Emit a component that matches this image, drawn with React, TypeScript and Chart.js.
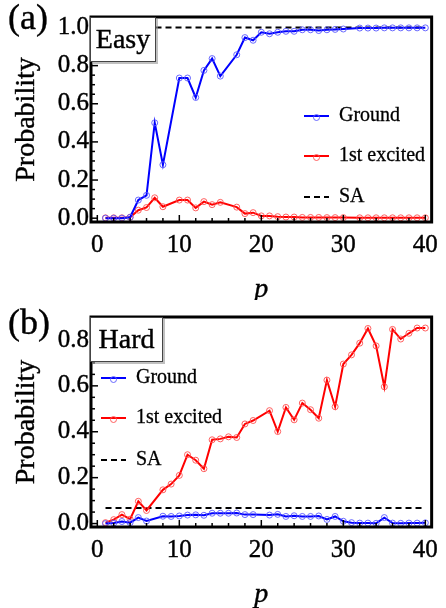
import React, { useEffect, useRef } from "react";
import { Chart, registerables } from "chart.js";
Chart.register(...registerables);

// ---------- data ----------
const xTicks = [0, 10, 20, 30, 40];
const yTicksEasy = [0, 0.2, 0.4, 0.6, 0.8, 1.0];
const yTicksHard = [0, 0.2, 0.4, 0.6, 0.8];

const pEasy = [1, 2, 3, 4, 5, 6, 7, 8, 10, 11, 12, 13, 14, 15, 17, 18, 19, 20, 21, 22, 23, 24, 25, 26, 27, 28, 29, 30, 32, 33, 34, 35, 36, 37, 38, 39, 40];
const groundEasy = [0.0, 0.0, 0.0, 0.005, 0.095, 0.12, 0.5, 0.28, 0.735, 0.735, 0.633, 0.775, 0.837, 0.745, 0.857, 0.947, 0.933, 0.975, 0.967, 0.975, 0.98, 0.98, 0.988, 0.988, 0.984, 0.988, 0.99, 0.992, 0.997, 0.997, 0.997, 0.998, 0.998, 0.998, 0.998, 0.998, 0.998];
const excitedEasy = [0.002, 0.002, 0.002, 0.005, 0.042, 0.056, 0.107, 0.06, 0.095, 0.095, 0.054, 0.087, 0.071, 0.083, 0.058, 0.024, 0.029, 0.012, 0.012, 0.008, 0.006, 0.006, 0.004, 0.004, 0.004, 0.003, 0.003, 0.003, 0.002, 0.002, 0.002, 0.002, 0.002, 0.002, 0.002, 0.002, 0.002];
const saEasy = 1.0;

const pHard = [1, 2, 3, 4, 5, 6, 8, 9, 10, 11, 12, 13, 14, 15, 16, 17, 18, 19, 21, 22, 23, 24, 25, 26, 27, 28, 29, 30, 31, 32, 33, 34, 35, 36, 37, 38, 39, 40];
const groundHard = [0.0, 0.002, 0.009, 0.004, 0.026, 0.011, 0.032, 0.031, 0.033, 0.037, 0.038, 0.036, 0.045, 0.045, 0.045, 0.046, 0.039, 0.039, 0.037, 0.04, 0.031, 0.034, 0.031, 0.031, 0.033, 0.018, 0.031, 0.01, 0.004, 0.002, 0.002, 0.001, 0.026, 0.002, 0.001, 0.002, 0.002, 0.003];
const excitedHard = [0.004, 0.017, 0.039, 0.019, 0.097, 0.057, 0.147, 0.172, 0.21, 0.3, 0.276, 0.239, 0.365, 0.369, 0.378, 0.375, 0.434, 0.449, 0.492, 0.401, 0.506, 0.452, 0.525, 0.496, 0.459, 0.625, 0.509, 0.695, 0.735, 0.786, 0.85, 0.774, 0.596, 0.846, 0.804, 0.829, 0.852, 0.852];
const saHard = 0.068;
const saRange = [1, 40];

const seriesNames = ["Ground", "1st excited", "SA"];

// ---------- styles ----------
const FONT = "'Liberation Serif', 'Times New Roman', serif";
const BLUE = "#0000ff";
const RED = "#ff0000";
const BLUE_MK = "rgba(90,90,255,0.9)";
const RED_MK = "rgba(255,80,80,0.9)";

type PanelCfg = {
  tag: string;
  box: string;
  boxW: number;
  legendX: number;
  legendY: number[];
  padTop: number;
  height: number;
  yMin: number;
  yMax: number;
  yTicks: number[];
};

function strokeText(ctx: CanvasRenderingContext2D, s: string, x: number, y: number, w: number) {
  ctx.lineWidth = w;
  ctx.strokeStyle = "#000";
  ctx.strokeText(s, x, y);
  ctx.fillText(s, x, y);
}

function decorPlugin(cfg: PanelCfg) {
  return {
    id: "decor" + cfg.tag,
    afterDraw(chart: any) {
      const ctx = chart.ctx as CanvasRenderingContext2D;
      const a = chart.chartArea;
      const xs = chart.scales.x;
      const ys = chart.scales.y;
      ctx.save();
      // inward ticks
      ctx.strokeStyle = "#000";
      ctx.lineWidth = 1.5;
      for (let v = 0; v <= 40; v += 2) {
        const px = xs.getPixelForValue(v);
        const len = v % 10 === 0 ? 7 : 4;
        ctx.beginPath();
        ctx.moveTo(px, a.bottom);
        ctx.lineTo(px, a.bottom - len);
        ctx.stroke();
      }
      for (let i = 0; i * 0.05 <= cfg.yMax + 1e-9; i++) {
        const v = i * 0.05;
        const py = ys.getPixelForValue(v);
        if (py < a.top) continue;
        const len = i % 4 === 0 ? 7 : 4;
        ctx.beginPath();
        ctx.moveTo(a.left, py);
        ctx.lineTo(a.left + len, py);
        ctx.stroke();
      }
      // frame
      ctx.lineWidth = 3;
      ctx.strokeRect(a.left, a.top, a.right - a.left, a.bottom - a.top);

      // box label
      const bx = a.left - 1, by = a.top, bw = cfg.boxW, bh = 45;
      ctx.fillStyle = "rgba(150,150,150,0.6)";
      ctx.fillRect(bx + 2, by + 2, bw, bh);
      ctx.fillStyle = "#fff";
      ctx.fillRect(bx, by, bw, bh);
      ctx.lineWidth = 1;
      ctx.strokeStyle = "#444";
      ctx.strokeRect(bx + 0.5, by + 0.5, bw - 1, bh - 1);
      ctx.fillStyle = "#000";
      ctx.font = `28px ${FONT}`;
      ctx.textAlign = "center";
      ctx.textBaseline = "middle";
      strokeText(ctx, cfg.box, bx + bw / 2, by + bh / 2 + 1, 0.4);

      // panel tag
      ctx.font = `36px ${FONT}`;
      ctx.textAlign = "left";
      strokeText(ctx, cfg.tag, 8, cfg.padTop + 11, 0.4);

      // axis titles
      ctx.font = `28px ${FONT}`;
      ctx.save();
      ctx.translate(27, (a.top + a.bottom) / 2);
      ctx.rotate(-Math.PI / 2);
      ctx.textAlign = "center";
      strokeText(ctx, "Probability", 0, 0, 0.4);
      ctx.restore();
      ctx.font = `italic 28px ${FONT}`;
      ctx.textAlign = "center";
      strokeText(ctx, "p", (a.left + a.right) / 2, a.bottom + 68, 0.4);

      // legend
      ctx.font = `20px ${FONT}`;
      ctx.textAlign = "left";
      const cols = [BLUE, RED, "#000"];
      const mks = [BLUE_MK, RED_MK, ""];
      seriesNames.forEach((name, i) => {
        const y = cfg.legendY[i];
        const x0 = cfg.legendX, x1 = cfg.legendX + 25;
        ctx.strokeStyle = cols[i];
        ctx.lineWidth = 2;
        ctx.setLineDash(i === 2 ? [6, 4] : []);
        ctx.beginPath();
        ctx.moveTo(x0, y);
        ctx.lineTo(x1, y);
        ctx.stroke();
        ctx.setLineDash([]);
        if (mks[i]) {
          ctx.strokeStyle = mks[i];
          ctx.lineWidth = 1;
          ctx.beginPath();
          ctx.arc((x0 + x1) / 2, y + 1.5, 3, 0, Math.PI * 2);
          ctx.stroke();
        }
        ctx.fillStyle = "#000";
        strokeText(ctx, name, x1 + 10, y, 0.3);
      });
      ctx.restore();
    },
  };
}

function buildConfig(cfg: PanelCfg, p: number[], ground: number[], excited: number[], sa: number) {
  const pts = (vals: number[]) => p.map((x, i) => ({ x, y: vals[i] }));
  const lineDs = (label: string, vals: number[], col: string, mk: string, order: number) => ({
    label,
    data: pts(vals),
    borderColor: col,
    borderWidth: 2,
    pointRadius: 3,
    pointBorderWidth: 1,
    pointBorderColor: mk,
    pointBackgroundColor: "rgba(0,0,0,0)",
    pointStyle: "circle",
    fill: false,
    tension: 0,
    order,
  });
  const tickFont = { family: FONT, size: 25 };
  return {
    type: "line",
    data: {
      datasets: [
        lineDs(seriesNames[0], ground, BLUE, BLUE_MK, 0),
        lineDs(seriesNames[1], excited, RED, RED_MK, 1),
        {
          label: seriesNames[2],
          data: saRange.map((x) => ({ x, y: sa })),
          borderColor: "#000",
          borderWidth: 2,
          borderDash: [6, 4],
          pointRadius: 0,
          fill: false,
          order: 2,
        },
      ],
    },
    options: {
      responsive: false,
      animation: false,
      devicePixelRatio: 1,
      layout: { padding: { top: cfg.padTop, right: 9, left: 0, bottom: 0 } },
      plugins: { legend: { display: false }, tooltip: { enabled: false } },
      scales: {
        x: {
          type: "linear",
          min: -0.77,
          max: 40.77,
          grid: { display: false, drawTicks: false },
          border: { display: false },
          afterFit: (s: any) => {
            s.height = cfg.height - (cfg.padTop + 213);
          },
          afterBuildTicks: (s: any) => {
            s.ticks = xTicks.map((v) => ({ value: v }));
          },
          ticks: {
            color: "#000",
            font: tickFont,
            textStrokeColor: "#000",
            textStrokeWidth: 0.4,
            padding: 8,
            maxRotation: 0,
            callback: (v: any) => String(v),
          },
        },
        y: {
          type: "linear",
          min: cfg.yMin,
          max: cfg.yMax,
          grid: { display: false, drawTicks: false },
          border: { display: false },
          afterFit: (s: any) => {
            s.width = 91;
          },
          afterBuildTicks: (s: any) => {
            s.ticks = cfg.yTicks.map((v) => ({ value: v }));
          },
          ticks: {
            color: "#000",
            font: tickFont,
            textStrokeColor: "#000",
            textStrokeWidth: 0.4,
            padding: 2,
            callback: (v: any) => Number(v).toFixed(1),
          },
        },
      },
    },
    plugins: [decorPlugin(cfg)],
  };
}

const easyCfg: PanelCfg = {
  tag: "(a)",
  box: "Easy",
  boxW: 66,
  legendX: 304,
  legendY: [116, 156, 197],
  padTop: 9,
  height: 300,
  yMin: -0.02,
  yMax: 1.055,
  yTicks: yTicksEasy,
};
const hardCfg: PanelCfg = {
  tag: "(b)",
  box: "Hard",
  boxW: 73,
  legendX: 101,
  legendY: [78, 118, 160],
  padTop: 14,
  height: 308,
  yMin: -0.015,
  yMax: 0.9,
  yTicks: yTicksHard,
};

function Panel(props: { cfg: PanelCfg; p: number[]; g: number[]; e: number[]; sa: number; top: number }) {
  const ref = useRef<HTMLCanvasElement>(null);
  useEffect(() => {
    if (!ref.current) return;
    const chart = new Chart(ref.current, buildConfig(props.cfg, props.p, props.g, props.e, props.sa) as any);
    return () => chart.destroy();
  }, []);
  return (
    <canvas
      ref={ref}
      width={446}
      height={props.cfg.height}
      style={{ position: "absolute", left: 0, top: props.top, width: 446, height: props.cfg.height }}
    />
  );
}

export default function App() {
  return (
    <div style={{ position: "absolute", left: 0, top: 0, width: 446, height: 608, background: "#fff" }}>
      <Panel cfg={easyCfg} p={pEasy} g={groundEasy} e={excitedEasy} sa={saEasy} top={0} />
      <Panel cfg={hardCfg} p={pHard} g={groundHard} e={excitedHard} sa={saHard} top={300} />
    </div>
  );
}
